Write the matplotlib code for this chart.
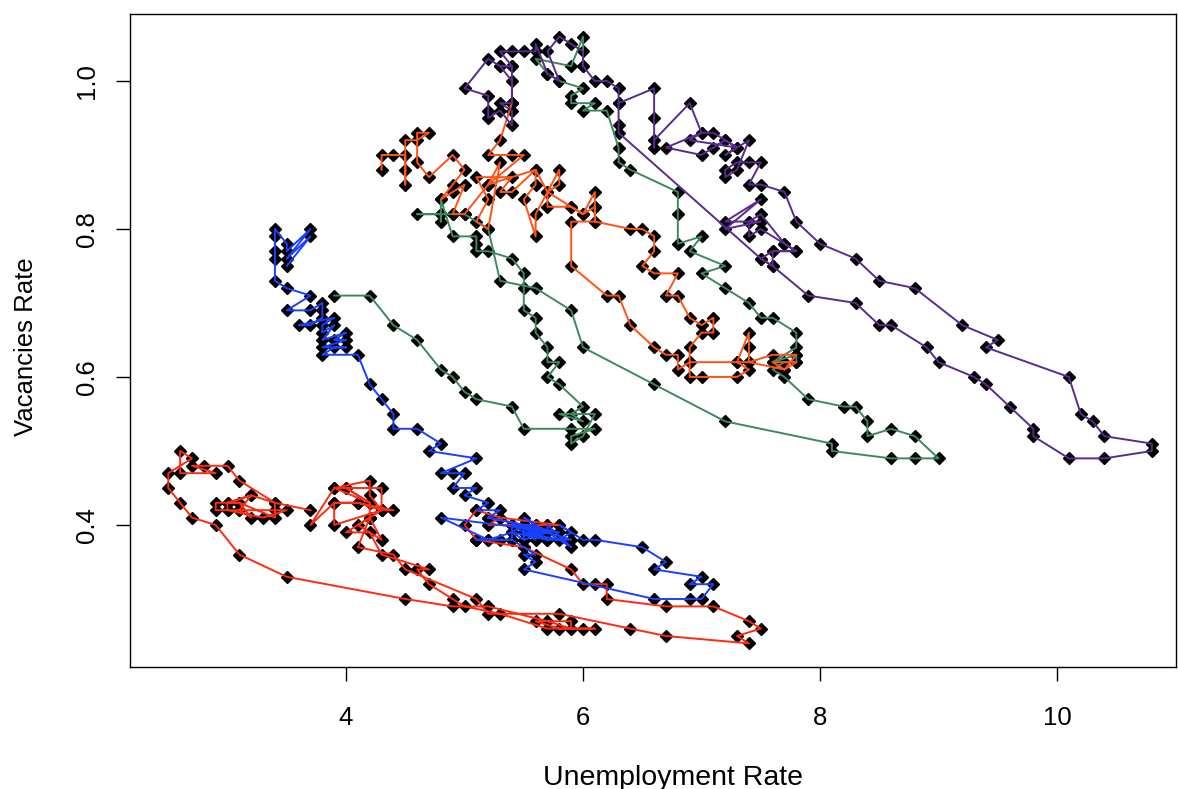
import matplotlib.pyplot as plt

plt.rcParams['font.family'] = ['Liberation Sans', 'DejaVu Sans']

# unemployment rate (u) and vacancies rate (v), monthly, one list pair per decade
red_u = [3.7, 3.4, 3.4, 3.1, 3.0, 3.2, 3.1, 3.0, 3.3, 3.5, 3.4, 3.1,
         3.2, 3.1, 2.9, 2.9, 3.0, 3.0, 3.2, 3.4, 3.1, 3.0, 2.8, 2.7,
         2.9, 2.6, 2.6, 2.7, 2.5, 2.5, 2.6, 2.7, 2.9, 3.1, 3.5, 4.5,
         4.9, 5.2, 5.7, 5.9, 5.9, 5.6, 5.8, 6.0, 6.1, 5.7, 5.3, 5.0,
         4.9, 4.7, 4.6, 4.7, 4.3, 4.2, 4.0, 4.2, 4.1, 4.3, 4.2, 4.2,
         4.0, 3.9, 4.2, 4.0, 4.3, 4.3, 4.4, 4.1, 3.9, 3.9, 4.3, 4.2,
         4.2, 3.9, 3.7, 3.9, 4.1, 4.3, 4.2, 4.1, 4.4, 4.5, 5.1, 5.2,
         5.8, 6.4, 6.7, 7.4, 7.3, 7.5, 7.4, 7.1, 6.7, 6.2, 6.2, 6.1,
         6.0, 5.9, 5.5, 5.1, 5.0, 5.1, 5.3, 5.2, 5.5, 5.7, 5.8, 5.3]
red_v = [0.42, 0.43, 0.41, 0.43, 0.43, 0.44, 0.42, 0.42, 0.41, 0.42, 0.42, 0.42,
         0.41, 0.43, 0.43, 0.42, 0.42, 0.43, 0.44, 0.43, 0.46, 0.48, 0.48, 0.48,
         0.47, 0.47, 0.50, 0.49, 0.47, 0.45, 0.43, 0.41, 0.40, 0.36, 0.33, 0.30,
         0.29, 0.29, 0.27, 0.26, 0.27, 0.27, 0.26, 0.26, 0.26, 0.26, 0.28, 0.29,
         0.30, 0.32, 0.34, 0.34, 0.36, 0.39, 0.39, 0.41, 0.40, 0.38, 0.41, 0.43,
         0.45, 0.45, 0.43, 0.45, 0.45, 0.42, 0.42, 0.43, 0.43, 0.40, 0.42, 0.44,
         0.46, 0.45, 0.40, 0.43, 0.43, 0.42, 0.41, 0.37, 0.36, 0.34, 0.30, 0.28,
         0.28, 0.26, 0.25, 0.24, 0.25, 0.26, 0.27, 0.29, 0.29, 0.30, 0.32, 0.32,
         0.32, 0.34, 0.37, 0.38, 0.40, 0.42, 0.41, 0.40, 0.40, 0.40, 0.40, 0.41]

blue_u = [5.2, 5.5, 5.4, 5.2, 5.1, 5.4, 5.5, 5.6, 5.5, 5.6, 5.5, 6.6,
          6.9, 7.0, 7.1, 6.9, 7.0, 6.6, 6.7, 6.5, 6.1, 6.0, 5.8, 5.9,
          5.8, 5.5, 5.6, 5.6, 5.5, 5.5, 5.4, 5.7, 5.6, 5.4, 5.7, 5.5,
          5.7, 5.9, 5.7, 5.7, 5.9, 5.6, 5.6, 5.4, 5.5, 5.5, 5.7, 5.5,
          5.6, 5.4, 5.4, 5.3, 5.1, 5.2, 4.8, 5.8, 5.5, 5.2, 5.3, 5.1,
          5.2, 5.0, 5.1, 4.9, 5.0, 4.9, 4.8, 5.1, 4.7, 4.8, 4.6, 4.4,
          4.4, 4.3, 4.2, 4.1, 3.8, 3.9, 4.0, 3.8, 4.0, 3.9, 4.0, 3.8,
          3.9, 3.8, 3.8, 3.9, 3.6, 3.7, 3.8, 3.8, 3.8, 3.7, 3.5, 3.7,
          3.5, 3.4, 3.4, 3.4, 3.4, 3.4, 3.5, 3.5, 3.7, 3.5, 3.7, 3.5]
blue_v = [0.41, 0.40, 0.39, 0.38, 0.38, 0.38, 0.37, 0.36, 0.36, 0.35, 0.34, 0.30,
          0.30, 0.30, 0.32, 0.32, 0.33, 0.34, 0.35, 0.37, 0.38, 0.38, 0.40, 0.39,
          0.38, 0.39, 0.38, 0.39, 0.40, 0.38, 0.39, 0.38, 0.39, 0.40, 0.39, 0.39,
          0.38, 0.38, 0.39, 0.40, 0.37, 0.40, 0.39, 0.40, 0.39, 0.38, 0.39, 0.41,
          0.40, 0.40, 0.38, 0.38, 0.38, 0.38, 0.41, 0.39, 0.40, 0.41, 0.42, 0.42,
          0.43, 0.44, 0.45, 0.45, 0.47, 0.47, 0.47, 0.49, 0.50, 0.51, 0.53, 0.53,
          0.55, 0.57, 0.59, 0.63, 0.63, 0.64, 0.64, 0.64, 0.65, 0.65, 0.66, 0.65,
          0.67, 0.66, 0.67, 0.68, 0.67, 0.67, 0.68, 0.69, 0.70, 0.69, 0.69, 0.71,
          0.72, 0.73, 0.76, 0.77, 0.79, 0.80, 0.78, 0.77, 0.80, 0.76, 0.79, 0.75]

green_u = [3.9, 4.2, 4.4, 4.6, 4.8, 4.9, 5.0, 5.1, 5.4, 5.5, 5.9, 6.1,
           5.9, 5.9, 6.0, 6.1, 5.8, 6.0, 5.9, 6.0, 5.8, 5.7, 5.8, 5.7,
           5.7, 5.6, 5.6, 5.5, 5.5, 5.5, 5.4, 5.2, 5.1, 5.1, 5.1, 4.9,
           4.8, 4.8, 4.8, 4.6, 4.8, 4.9, 5.0, 5.2, 5.3, 5.6, 5.9, 6.0,
           6.6, 7.2, 8.1, 8.1, 8.6, 8.8, 9.0, 8.8, 8.6, 8.4, 8.4, 8.3,
           8.2, 7.9, 7.7, 7.6, 7.7, 7.8, 7.8, 7.6, 7.8, 7.8, 7.6, 7.5,
           7.4, 7.2, 7.0, 7.2, 6.9, 7.0, 6.8, 6.8, 6.8, 6.4, 6.3, 6.3,
           6.2, 6.0, 6.1, 5.9, 5.9, 6.0, 5.8, 5.7, 5.6, 5.9, 6.0, 6.0]
green_v = [0.71, 0.71, 0.67, 0.65, 0.61, 0.60, 0.58, 0.57, 0.56, 0.53, 0.53, 0.53,
           0.52, 0.51, 0.52, 0.55, 0.55, 0.54, 0.55, 0.56, 0.59, 0.60, 0.62, 0.62,
           0.64, 0.66, 0.68, 0.69, 0.72, 0.74, 0.76, 0.77, 0.77, 0.78, 0.79, 0.79,
           0.84, 0.81, 0.82, 0.82, 0.82, 0.82, 0.82, 0.80, 0.73, 0.72, 0.69, 0.64,
           0.59, 0.54, 0.51, 0.50, 0.49, 0.49, 0.49, 0.52, 0.53, 0.52, 0.54, 0.56,
           0.56, 0.57, 0.60, 0.61, 0.62, 0.62, 0.63, 0.62, 0.64, 0.66, 0.68, 0.68,
           0.70, 0.72, 0.74, 0.75, 0.77, 0.79, 0.78, 0.82, 0.85, 0.88, 0.89, 0.91,
           0.96, 0.96, 0.97, 0.97, 0.98, 0.99, 1.00, 1.01, 1.03, 1.02, 1.06, 1.02]

orange_u = [5.4, 5.3, 5.2, 5.4, 5.5, 5.2, 5.6, 5.7, 5.9, 6.0, 6.1, 6.1,
            6.1, 6.4, 6.5, 6.6, 6.6, 6.5, 6.6, 6.8, 6.7, 6.8, 6.9, 7.0,
            7.1, 7.1, 7.0, 6.9, 6.9, 6.9, 7.0, 7.3, 7.4, 7.3, 7.4, 7.4,
            7.4, 7.6, 7.8, 7.7, 7.8, 7.6, 7.7, 7.4, 7.3, 6.9, 6.8, 6.8,
            6.7, 6.6, 6.4, 6.3, 6.2, 5.9, 5.9, 6.1, 6.1, 6.0, 5.9, 5.7,
            5.7, 5.8, 5.8, 5.6, 5.6, 5.5, 5.6, 5.6, 5.4, 5.3, 5.4, 5.1,
            5.2, 5.1, 5.2, 5.3, 5.2, 5.0, 4.9, 5.0, 4.9, 4.8, 4.9, 5.0,
            4.9, 4.7, 4.6, 4.6, 4.7, 4.6, 4.5, 4.5, 4.5, 4.5, 4.4, 4.3, 4.3]
orange_v = [0.97, 0.92, 0.90, 0.90, 0.90, 0.86, 0.88, 0.85, 0.83, 0.82, 0.85, 0.83,
            0.81, 0.80, 0.80, 0.79, 0.77, 0.75, 0.74, 0.74, 0.71, 0.71, 0.68, 0.67,
            0.68, 0.66, 0.66, 0.64, 0.62, 0.60, 0.60, 0.60, 0.61, 0.62, 0.66, 0.64,
            0.62, 0.63, 0.63, 0.61, 0.62, 0.62, 0.61, 0.62, 0.62, 0.62, 0.61, 0.63,
            0.63, 0.64, 0.67, 0.71, 0.71, 0.75, 0.81, 0.81, 0.83, 0.82, 0.83, 0.83,
            0.85, 0.86, 0.88, 0.82, 0.79, 0.84, 0.86, 0.88, 0.85, 0.85, 0.87, 0.87,
            0.84, 0.81, 0.80, 0.89, 0.86, 0.82, 0.82, 0.86, 0.85, 0.84, 0.86, 0.88,
            0.90, 0.87, 0.89, 0.93, 0.93, 0.92, 0.92, 0.88, 0.86, 0.90, 0.90, 0.90, 0.88]

purple_u = [6.3, 6.3, 6.3, 7.5, 7.6, 7.6, 7.8, 7.7, 7.5, 7.4, 7.4, 7.2,
            7.5, 7.2, 7.5, 7.4, 7.5, 7.7, 7.8, 7.6, 7.5, 7.6, 7.9, 8.3,
            8.5, 8.6, 8.9, 9.0, 9.3, 9.4, 9.6, 9.8, 9.8, 10.1, 10.4, 10.8,
            10.8, 10.4, 10.3, 10.2, 10.1, 9.4, 9.5, 9.2, 8.8, 8.5, 8.3, 8.0,
            7.8, 7.7, 7.5, 7.4, 7.5, 7.4, 7.3, 7.2, 7.2, 7.3, 7.4, 7.2,
            7.3, 7.2, 7.1, 7.0, 6.7, 7.0, 7.1, 7.2, 7.3, 6.9, 7.0, 6.9,
            6.6, 6.6, 6.6, 6.6, 6.3, 6.3, 6.2, 6.1, 6.0, 6.0, 5.9, 5.8,
            5.7, 5.8, 5.7, 5.6, 5.6, 5.5, 5.4, 5.3, 5.4, 5.3, 5.2, 5.0,
            5.2, 5.2, 5.2, 5.3, 5.4, 5.4, 5.3, 5.4, 5.4, 5.3, 5.4, 5.4]
purple_v = [0.97, 0.94, 0.93, 0.76, 0.75, 0.77, 0.77, 0.78, 0.80, 0.79, 0.81, 0.81,
            0.84, 0.80, 0.81, 0.81, 0.82, 0.78, 0.77, 0.77, 0.76, 0.75, 0.71, 0.70,
            0.67, 0.67, 0.64, 0.62, 0.60, 0.59, 0.56, 0.53, 0.52, 0.49, 0.49, 0.50,
            0.51, 0.52, 0.54, 0.55, 0.60, 0.64, 0.65, 0.67, 0.72, 0.73, 0.76, 0.78,
            0.81, 0.85, 0.86, 0.86, 0.89, 0.89, 0.89, 0.88, 0.87, 0.88, 0.92, 0.90,
            0.91, 0.92, 0.91, 0.90, 0.91, 0.93, 0.93, 0.92, 0.91, 0.92, 0.93, 0.97,
            0.92, 0.91, 0.95, 0.99, 0.97, 0.99, 1.00, 1.00, 1.02, 1.04, 1.05, 1.06,
            1.04, 1.00, 1.01, 1.05, 1.04, 1.04, 1.04, 1.04, 1.02, 1.02, 1.03, 0.99,
            0.98, 0.96, 0.95, 0.96, 0.94, 0.96, 0.97, 0.97, 1.00, 1.02, 1.02, 0.97]

series = [
    (red_u, red_v, '#ff2b0e'),
    (blue_u, blue_v, '#1a40ff'),
    (green_u, green_v, '#3a8a5e'),
    (orange_u, orange_v, '#ff5214'),
    (purple_u, purple_v, '#5a2a90'),
]

fig = plt.figure(figsize=(11.78, 7.89), dpi=100)
ax = fig.add_axes([130 / 1178, 1 - 667 / 789, 1046 / 1178, 653 / 789])

for u, v, col in series:
    ax.plot(u, v, ls='none', marker='D', ms=6.5, color='black', zorder=2)
for u, v, col in series:
    ax.plot(u, v, color=col, lw=1.4, zorder=3)

ax.set_xlim(2.177, 11.004)
ax.set_ylim(0.2081, 1.0905)
ax.set_xticks([4, 6, 8, 10])
ax.set_yticks([0.4, 0.6, 0.8, 1.0])
ax.set_yticklabels(['0.4', '0.6', '0.8', '1.0'], rotation=90, va='center')
ax.tick_params(direction='out', length=10, width=1, labelsize=18.5)
ax.tick_params(axis='x', pad=18)
ax.tick_params(axis='y', pad=12)
for s in ax.spines.values():
    s.set_linewidth(1)

fig.text(673 / 1178, 1 - 778 / 789, 'Unemployment Rate', ha='center', va='center', fontsize=20.5)
fig.text(26 / 1178, 1 - 347 / 789, 'Vacancies Rate', ha='center', va='center', rotation=90, fontsize=18.5)

fig.savefig('out.png', dpi=100)
